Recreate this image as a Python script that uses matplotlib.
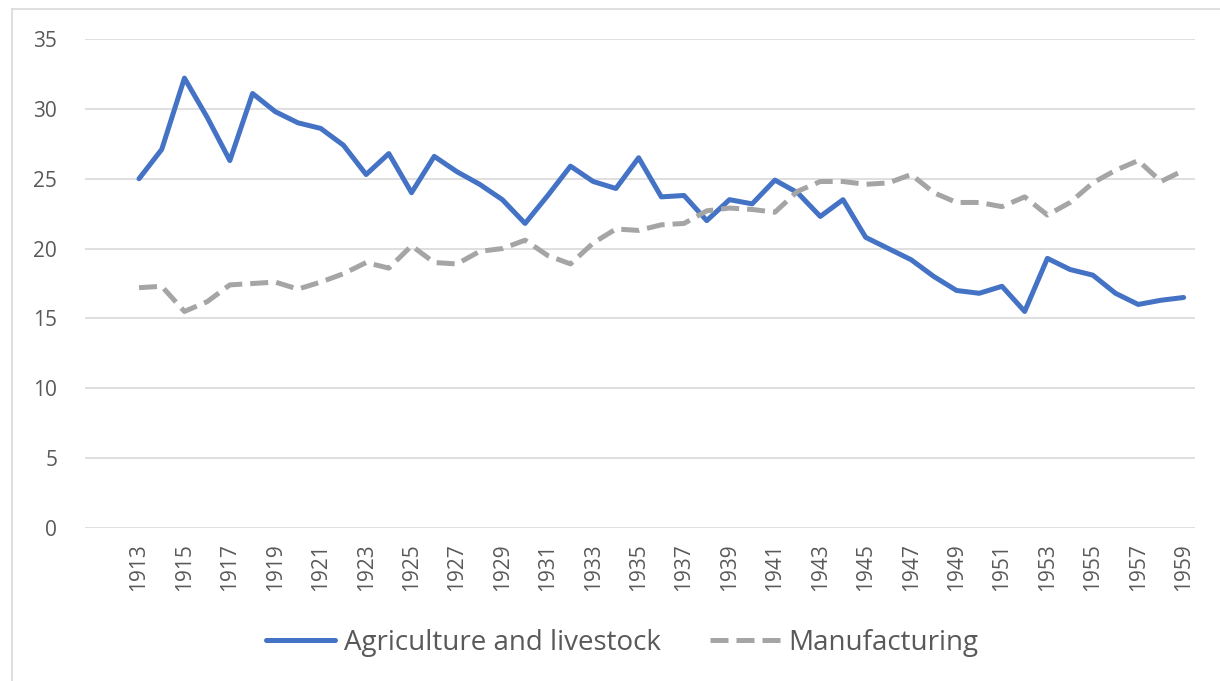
import matplotlib
matplotlib.use("Agg")
import matplotlib.pyplot as plt
from matplotlib.lines import Line2D

# data
years = list(range(1913, 1960))
agri = [25.0, 27.1, 32.2, 29.4, 26.3, 31.1, 29.8, 29.0, 28.6, 27.4,
        25.3, 26.8, 24.0, 26.6, 25.5, 24.6, 23.5, 21.8, 23.8, 25.9,
        24.8, 24.3, 26.5, 23.7, 23.8, 22.0, 23.5, 23.2, 24.9, 24.0,
        22.3, 23.5, 20.8, 20.0, 19.2, 18.0, 17.0, 16.8, 17.3, 15.5,
        19.3, 18.5, 18.1, 16.8, 16.0, 16.3, 16.5]
manuf = [17.2, 17.3, 15.5, 16.2, 17.4, 17.5, 17.6, 17.1, 17.6, 18.2,
         19.0, 18.6, 20.2, 19.0, 18.9, 19.8, 20.0, 20.6, 19.5, 18.9,
         20.4, 21.4, 21.3, 21.7, 21.8, 22.7, 22.9, 22.8, 22.6, 24.1,
         24.8, 24.8, 24.6, 24.7, 25.3, 24.0, 23.3, 23.3, 23.0, 23.7,
         22.4, 23.3, 24.7, 25.6, 26.3, 24.8, 25.6]
yticks = [0, 5, 10, 15, 20, 25, 30, 35]
xlabels = years[::2]

plt.rcParams['font.family'] = ['Open Sans', 'DejaVu Sans']

fig = plt.figure(figsize=(12.2, 6.81), dpi=100)
ax = fig.add_axes([85/1220, 1-528/681, (1195-85)/1220, (528-39)/681])

ax.plot(years, agri, color="#4472C4", lw=3.6, solid_joinstyle="round",
        solid_capstyle="round", label="Agriculture and livestock")
ax.plot(years, manuf, color="#A5A5A5", lw=3.6, dashes=(3.6, 1.6),
        label="Manufacturing")

ax.set_ylim(0, 35)
ax.set_xlim(1913 - 54/22.7, 1959 + 0.5)
ax.set_yticks(yticks)
ax.set_xticks(xlabels)
ax.set_xticklabels([str(y) for y in xlabels], rotation=90)
ax.tick_params(axis="both", length=0, labelsize=15, colors="#595959")
ax.tick_params(axis="y", pad=20)
ax.tick_params(axis="x", pad=11)
ax.grid(axis="y", color="#D9D9D9", lw=1.2)
ax.set_axisbelow(True)
for s in ax.spines.values():
    s.set_visible(False)

leg = fig.legend(loc="center", bbox_to_anchor=(622/1220, 1-643/681), ncol=2,
                 frameon=False, fontsize=20, handlelength=2.5,
                 columnspacing=1.8, handletextpad=0.3)
for t in leg.get_texts():
    t.set_color("#595959")

# chart border
fig.add_artist(Line2D([12/1220, 1], [1-9/681, 1-9/681], color="#D9D9D9", lw=1.2))
fig.add_artist(Line2D([12/1220, 12/1220], [0, 1-9/681], color="#D9D9D9", lw=1.2))

fig.savefig("out.png", dpi=100, facecolor="white")
